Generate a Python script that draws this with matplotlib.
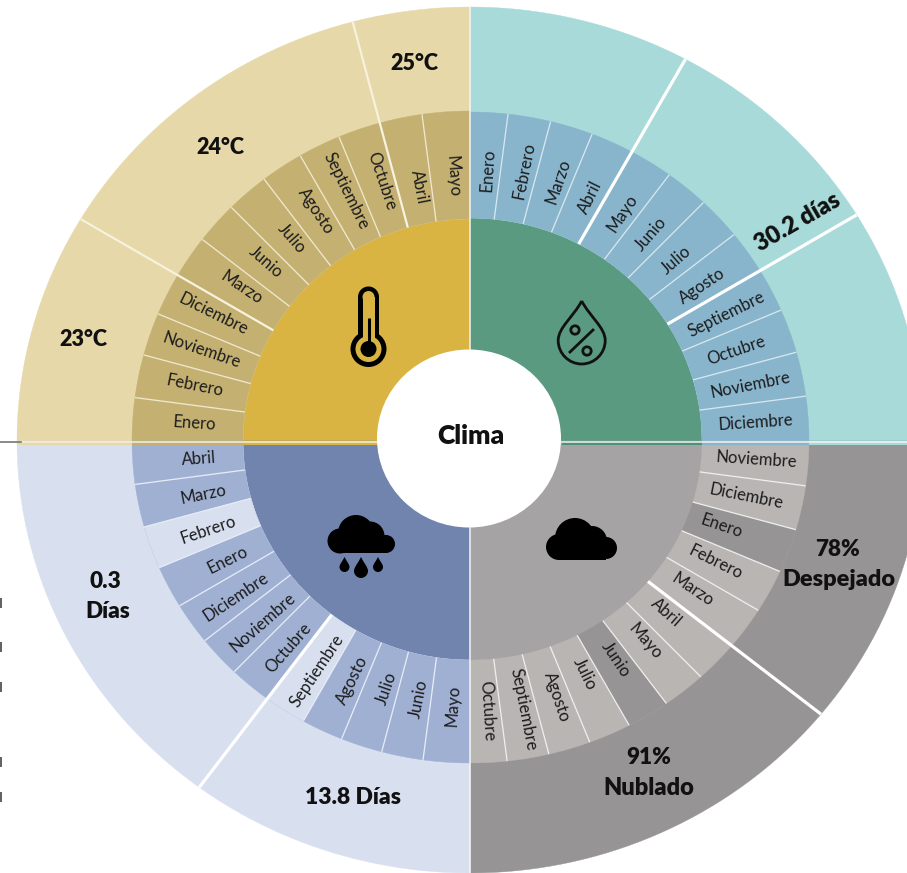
import numpy as np
import matplotlib
matplotlib.use("Agg")
import matplotlib.pyplot as plt
from matplotlib.patches import Polygon, Circle, Ellipse, PathPatch, Rectangle
from matplotlib.path import Path

plt.rcParams["font.family"] = ["Lato", "DejaVu Sans"]

# months per quadrant, walking away from the start angle
temp_months = ["Enero", "Febrero", "Noviembre", "Diciembre", "Marzo", "Junio",
               "Julio", "Agosto", "Septiembre", "Octubre", "Abril", "Mayo"]
humid_months = ["Enero", "Febrero", "Marzo", "Abril", "Mayo", "Junio",
                "Julio", "Agosto", "Septiembre", "Octubre", "Noviembre", "Diciembre"]
cloud_months = ["Noviembre", "Diciembre", "Enero", "Febrero", "Marzo", "Abril",
                "Mayo", "Junio", "Julio", "Agosto", "Septiembre", "Octubre"]
rain_months = ["Abril", "Marzo", "Febrero", "Enero", "Diciembre", "Noviembre",
               "Octubre", "Septiembre", "Agosto", "Julio", "Junio", "Mayo"]

# how many months each outer band spans
temp_groups = [4, 6, 2]
humid_groups = [4, 4, 4]
cloud_groups = [5, 7]
rain_groups = [7, 5]

# months that stand out in the ring (same colour as the outer band)
cloud_peaks = ["Enero", "Junio"]
rain_peaks = ["Febrero", "Septiembre"]

# layout
W, H = 907, 873
CX, CY = 470, 441
SPOKE_X = 465  # the month spokes meet a little left of the ring centre
STEP = 7.5


def hit(theta, ring, ox=CX):
    # where a ray from (ox, CY) at angle theta meets the elliptical ring
    t = np.radians(theta)
    c, s = np.cos(t), np.sin(t)
    rx, ry = ring
    d = ox - CX
    qa = (c / rx) ** 2 + (s / ry) ** 2
    qb = 2 * d * c / rx ** 2
    qc = (d / rx) ** 2 - 1
    k = (-qb + np.sqrt(qb ** 2 - 4 * qa * qc)) / (2 * qa)
    return ox + k * c, CY - k * s


def point(theta, r):
    t = np.radians(theta)
    return CX + r * np.cos(t), CY - r * np.sin(t)


def sector(ax, a0, a1, inner, outer, color, z=1, ox=CX):
    th = np.linspace(a0, a1, 60)
    xo, yo = hit(th, outer, ox)
    xi, yi = hit(th[::-1], inner, ox)
    pts = np.column_stack([np.r_[xo, xi], np.r_[yo, yi]])
    ax.add_patch(Polygon(pts, closed=True, fc=color, ec=color, lw=0.3, zorder=z))


def spoke(ax, theta, inner, outer, color, width, z=3):
    x0, y0 = hit(theta, inner, SPOKE_X)
    x1, y1 = hit(theta, outer, SPOKE_X)
    ax.plot([x0, x1], [y0, y1], color=color, lw=width * 0.72,
            solid_capstyle="butt", zorder=z)


def quadrant(ax, months, groups, start, sign, rings, colors, label_r, thin, thick,
             thick_w=3.0, peaks=()):
    core, mid, out = rings
    c_core, c_mid, c_out = colors
    sector(ax, start, start + sign * 90, (1, 1), core, c_core)
    sector(ax, start, start + sign * 90, core, out, c_out)
    sector(ax, start, start + sign * 90, core, mid, c_mid, z=2)
    for i, m in enumerate(months):
        a0 = start + sign * i * STEP
        a1 = a0 + sign * STEP
        if m in peaks:
            sector(ax, a0, a1, core, mid, c_out, z=2, ox=SPOKE_X)
        if i > 0:
            spoke(ax, a0, core, mid, thin, 1.3)
        mid_a = (a0 + a1) / 2
        x, y = point(mid_a, label_r[i])
        rot = (mid_a + 90) % 180 - 90
        ax.text(x, y, m, fontsize=12, color="#1c1c1c", rotation=rot,
                rotation_mode="anchor", ha="center", va="center", zorder=6)
    for n in np.cumsum(groups)[:-1]:
        spoke(ax, start + sign * n * STEP, core, out, thick, thick_w, z=4)


def cloud(ax, bumps, base):
    for cx, cy, r in bumps:
        ax.add_patch(Circle((cx, cy), r, fc="black", ec="none", zorder=7))
    ax.add_patch(Rectangle((base[0], base[1]), base[2], base[3], fc="black", ec="none", zorder=7))


def droplet(ax, x, tip, w, h, fc="black", ec="none", lw=0):
    # pointed drop: tip on top, round belly below
    r = w / 2
    b = tip + h
    c = b - r
    k = 0.55 * r
    verts = [(x, tip),
             (x + r * 0.35, tip + h * 0.25), (x + r, c - k), (x + r, c),
             (x + r, c + k), (x + k, b), (x, b),
             (x - k, b), (x - r, c + k), (x - r, c),
             (x - r, c - k), (x - r * 0.35, tip + h * 0.25), (x, tip)]
    codes = [Path.MOVETO] + [Path.CURVE4] * 12
    ax.add_patch(PathPatch(Path(verts, codes), fc=fc, ec=ec, lw=lw, zorder=7, joinstyle="round"))


fig = plt.figure(figsize=(W / 100, H / 100), dpi=100)
ax = fig.add_axes([0, 0, 1, 1])
ax.set_xlim(0, W)
ax.set_ylim(H, 0)
ax.axis("off")

# temperature
quadrant(ax, temp_months, temp_groups, 180, -1,
         [(227, 222), (338, 330), (453, 434)],
         ["#d9b443", "#c4b172", "#e6d8a8"],
         [276, 281, 283, 286, 275, 272, 270, 277, 279, 274, 259, 265],
         "#efe8cf", "#f7f2de", thick_w=2.2)
# humidity
quadrant(ax, humid_months, humid_groups, 90, -1,
         [(232, 223), (339, 329), (453, 434)],
         ["#5a9a80", "#88b4cc", "#a8dada"],
         [271, 276, 274, 272, 274, 275, 274, 279, 286, 281, 286, 286],
         "#d6e8ef", "#ffffff", thick_w=3.2)
# cloud cover
quadrant(ax, cloud_months, cloud_groups, 0, -1,
         [(232, 219), (339, 322), (453, 432)],
         ["#a5a3a4", "#b8b5b3", "#969495"],
         [287, 282, 266, 274, 268, 261, 266, 263, 260, 270, 274, 270],
         "#eeeeee", "#ffffff", thick_w=3.2, peaks=cloud_peaks)
# rain days
quadrant(ax, rain_months, rain_groups, 180, 1,
         [(227, 219), (338, 322), (453, 432)],
         ["#7084ad", "#a0b0d3", "#d8e0f0"],
         [272, 272, 276, 270, 281, 275, 275, 276, 267, 261, 263, 265],
         "#e6ebf6", "#ffffff", thick_w=3.2, peaks=rain_peaks)

# top half runs a little past the axis, with a light rule on it
spans = [(17, 132, "#e6d8a8"), (132, 243, "#c4b172"), (243, 378, "#d9b443"),
         (562, 702, "#4f9078"), (702, 809, "#88b4cc"), (809, 907, "#a8dada")]
for x0, x1, c in spans:
    ax.add_patch(Rectangle((x0, CY), x1 - x0, 4, fc=c, ec="none", zorder=4))
ax.plot([21, 378], [CY + 0.5, CY + 0.5], color="#f4efdc", lw=1.1, zorder=5)
ax.plot([562, W], [CY + 0.5, CY + 0.5], color="#eef6f4", lw=1.1, zorder=5)
ax.plot([0, 21], [CY + 0.5, CY + 0.5], color="#777777", lw=1.2, zorder=5)
ax.plot([CX, CX], [7, H], color="#f6f6f2", lw=1.1, zorder=5)

# centre hole
ax.add_patch(Ellipse((469, 438.5), 184, 178, fc="white", ec="none", zorder=6))
ax.text(470.5, 436.5, "Clima", fontsize=19, fontweight="heavy", color="#111111",
        ha="center", va="center", zorder=7)

# band labels
bold = dict(fontweight="heavy", color="#111111", ha="center", va="center", zorder=6)
ax.text(83, 340, "23°C", fontsize=15.5, **bold)
ax.text(220, 148, "24°C", fontsize=15.5, **bold)
ax.text(414, 64, "25°C", fontsize=15.5, **bold)
ax.text(798, 222, "30.2 días", fontsize=17, rotation=30, rotation_mode="anchor", **bold)
ax.text(105, 582, "0.3", fontsize=16.2, **bold)
ax.text(108, 612, "Días", fontsize=16.2, **bold)
ax.text(353, 798, "13.8 Días", fontsize=16.5, **bold)
ax.text(838, 549, "78%", fontsize=16.2, **bold)
ax.text(839, 580, "Despejado", fontsize=16.9, **bold)
ax.text(649, 758, "91%", fontsize=16.2, **bold)
ax.text(649, 788, "Nublado", fontsize=17, **bold)

# thermometer
ax.add_patch(Rectangle((358, 297), 21, 40, fc="black", ec="none", zorder=7))
ax.add_patch(Circle((368.5, 297), 10.5, fc="black", ec="none", zorder=7))
ax.add_patch(Rectangle((362.5, 297), 12, 42, fc="#d9b443", ec="none", zorder=7))
ax.add_patch(Circle((368.5, 297), 6, fc="#d9b443", ec="none", zorder=7))
ax.add_patch(Circle((368.5, 349), 18, fc="black", ec="none", zorder=7))
ax.add_patch(Circle((368.5, 349), 13, fc="#d9b443", ec="none", zorder=8))
ax.add_patch(Rectangle((362.5, 330), 12, 12, fc="#d9b443", ec="none", zorder=8))
ax.add_patch(Circle((368.5, 349), 8, fc="black", ec="none", zorder=9))
ax.plot([368.5, 368.5], [318, 345], color="black", lw=2.2, solid_capstyle="butt", zorder=9)

# humidity drop
droplet(ax, 581.7, 301, 47, 63, fc="none", ec="#111111", lw=2.0)
ax.add_patch(Circle((575, 330), 4.2, fc="none", ec="#111111", lw=2.0, zorder=7))
ax.add_patch(Circle((587, 351), 4.2, fc="none", ec="#111111", lw=2.0, zorder=7))
ax.plot([593, 570], [330, 352], color="#111111", lw=2.0, zorder=7)

# rain cloud
cloud(ax, [(356, 533, 18), (370, 536, 14.5), (340, 541, 12.5), (386, 544, 9)], (340, 540, 46, 13))
droplet(ax, 344.5, 557, 10, 15)
droplet(ax, 361, 557, 14, 21)
droplet(ax, 378, 557, 10, 15)

# plain cloud
cloud(ax, [(575, 538, 20), (592, 541, 15), (559, 547, 13), (606, 548, 11)], (559, 540, 47, 19.5))

# small dark nicks along the left edge
for y in [603, 647, 687, 762, 797]:
    ax.plot([0.7, 0.7], [y - 5, y + 5], color="#444444", lw=1.2, solid_capstyle="butt")

fig.savefig("out.png", dpi=100)
